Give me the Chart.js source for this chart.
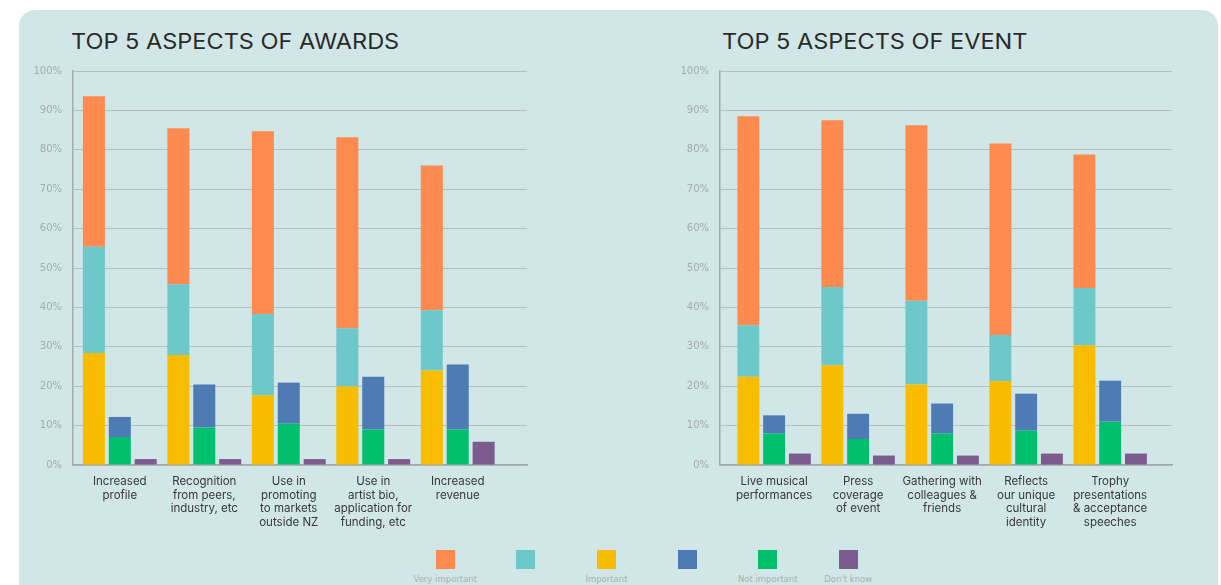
<!DOCTYPE html>
<html>
<head>
<meta charset="utf-8">
<script src="https://cdn.jsdelivr.net/npm/chart.js@4"></script>
<style>
  html, body { margin: 0; padding: 0; background: #ffffff; overflow: hidden; }
  body { width: 1221px; height: 585px; position: relative; }
  .panel {
    position: absolute; left: 19px; top: 10px; width: 1199px; height: 600px;
    background: #d1e6e6; border-radius: 16px;
  }
  .title {
    position: absolute; margin: 0; font-family: Inter, sans-serif; font-weight: 400;
    font-size: 21px; line-height: 21px; color: #2a2a2a; white-space: nowrap;
    transform: scaleX(1.12); transform-origin: left top;
  }
  .chart-box { position: absolute; top: 54px; height: 481px; }
  #legend { position: absolute; left: 405px; top: 550px; display: flex; }
  .leg-item { width: 80.6px; display: flex; flex-direction: column; align-items: center; }
  .leg-swatch { width: 19px; height: 19px; }
  .leg-label { margin-top: 5px; font-family: "DejaVu Sans", sans-serif; font-size: 8.5px; line-height: 10px; color: #a9b1b1; white-space: nowrap; height: 10px; }
</style>
</head>
<body>
<div class="panel"></div>
<h2 class="title" style="left:71px; top:31px;">TOP 5 ASPECTS OF AWARDS</h2>
<h2 class="title" style="left:722px; top:31px;">TOP 5 ASPECTS OF EVENT</h2>
<div class="chart-box" style="left:20px; width:510px;"><canvas id="awards-chart"></canvas></div>
<div class="chart-box" style="left:667px; width:508px;"><canvas id="event-chart"></canvas></div>
<div id="legend"></div>

<script>
// Categories (multi-line labels)
const awardsCategories = [
  ['Increased', 'profile'],
  ['Recognition', 'from peers,', 'industry, etc'],
  ['Use in', 'promoting', 'to markets', 'outside NZ'],
  ['Use in', 'artist bio,', 'application for', 'funding, etc'],
  ['Increased', 'revenue']
];
const eventCategories = [
  ['Live musical', 'performances'],
  ['Press', 'coverage', 'of event'],
  ['Gathering with', 'colleagues &', 'friends'],
  ['Reflects', 'our unique', 'cultural', 'identity'],
  ['Trophy', 'presentations', '& acceptance', 'speeches']
];

// Awards series (% of respondents)
const awardsImportant     = [28.4, 27.9, 17.7, 19.9, 24.0];
const awardsTeal          = [27.0, 18.0, 20.6, 14.8, 15.3];
const awardsVeryImportant = [38.2, 39.6, 46.4, 48.5, 36.7];
const awardsNotImportant  = [7.1, 9.5, 10.5, 9.0, 9.0];
const awardsBlue          = [5.1, 10.9, 10.4, 13.4, 16.5];
const awardsDontKnow      = [1.5, 1.5, 1.5, 1.5, 5.9];

// Event series (% of respondents)
const eventImportant      = [22.4, 25.3, 20.4, 21.3, 30.4];
const eventTeal           = [13.1, 19.9, 21.3, 11.7, 14.5];
const eventVeryImportant  = [53.0, 42.3, 44.5, 48.6, 33.9];
const eventNotImportant   = [8.0, 6.6, 8.0, 8.7, 11.0];
const eventBlue           = [4.6, 6.4, 7.6, 9.4, 10.4];
const eventDontKnow       = [2.9, 2.4, 2.4, 2.9, 2.9];

const yTicks = [0, 10, 20, 30, 40, 50, 60, 70, 80, 90, 100];

// Series definitions: label, colour, stack
const seriesNames  = ['Important', '', 'Very important', 'Not important', '', "Don't know"];
const seriesColors = ['#f8bd00', '#6cc8cb', '#ff8a4f', '#00c06e', '#4f7bb5', '#7c5c8f'];
const seriesStacks = ['rating', 'rating', 'rating', 'low', 'low', 'dk'];
const legendOrder  = [2, 1, 0, 4, 3, 5];

function buildDatasets(seriesValues) {
  return seriesValues.map((values, s) => ({
    label: seriesNames[s],
    data: values.map((v, i) => ({ x: i, y: v })),
    backgroundColor: seriesColors[s],
    stack: seriesStacks[s],
    borderWidth: 0,
    categoryPercentage: 0.92,
    barPercentage: 0.85
  }));
}

function makeChart(id, categories, seriesValues, xMin, xMax) {
  const el = document.getElementById(id);
  return new Chart(el, {
    type: 'bar',
    data: { datasets: buildDatasets(seriesValues) },
    options: {
      responsive: true,
      maintainAspectRatio: false,
      animation: false,
      layout: { padding: { top: 5, right: 3, left: 0, bottom: 0 } },
      plugins: {
        legend: { display: false },
        title: { display: false },
        tooltip: { enabled: false }
      },
      scales: {
        x: {
          type: 'linear',
          min: xMin,
          max: xMax,
          offset: false,
          afterBuildTicks: scale => { scale.ticks = categories.map((c, i) => ({ value: i })); },
          afterFit: scale => { scale.height = 70; },
          grid: { display: false, drawTicks: false },
          border: { display: true, color: '#a3a9a9', width: 1.5 },
          ticks: {
            autoSkip: false,
            maxRotation: 0,
            padding: 10,
            color: '#383838',
            font: { family: 'Inter, sans-serif', size: 11.5, lineHeight: '13.5px' },
            callback: value => categories[value]
          }
        },
        y: {
          min: 0,
          max: 100,
          stacked: true,
          afterBuildTicks: scale => { scale.ticks = yTicks.map(v => ({ value: v })); },
          afterFit: scale => { scale.width = 53; },
          grid: { color: '#b7bebe', lineWidth: 1, drawTicks: false },
          border: { display: true, color: '#a3a9a9', width: 1.5 },
          ticks: {
            padding: 11,
            color: '#a5abab',
            font: { family: '"DejaVu Sans", sans-serif', size: 10 },
            callback: value => value + '%'
          }
        }
      }
    }
  });
}

makeChart('awards-chart', awardsCategories,
  [awardsImportant, awardsTeal, awardsVeryImportant, awardsNotImportant, awardsBlue, awardsDontKnow],
  -0.554, 4.82);
makeChart('event-chart', eventCategories,
  [eventImportant, eventTeal, eventVeryImportant, eventNotImportant, eventBlue, eventDontKnow],
  -0.644, 4.736);

// Shared legend: swatch on top, label underneath
const legendEl = document.getElementById('legend');
legendOrder.forEach(s => {
  const item = document.createElement('div');
  item.className = 'leg-item';
  const sw = document.createElement('div');
  sw.className = 'leg-swatch';
  sw.style.background = seriesColors[s];
  const lab = document.createElement('div');
  lab.className = 'leg-label';
  lab.textContent = seriesNames[s];
  item.appendChild(sw);
  item.appendChild(lab);
  legendEl.appendChild(item);
});
</script>
</body>
</html>
